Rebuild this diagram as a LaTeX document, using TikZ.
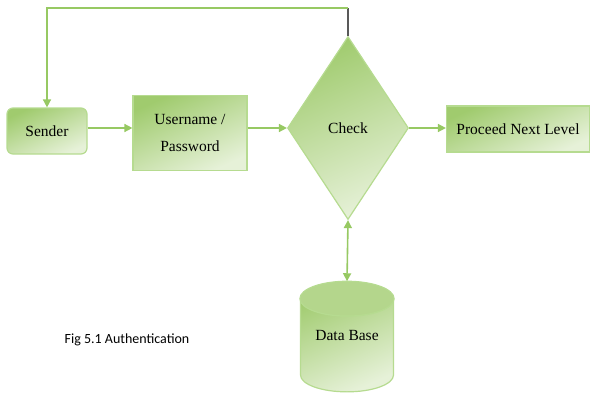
\documentclass[tikz,border=0pt]{standalone}
\usepackage{fontspec}
\setmainfont{Liberation Serif}
\newfontfamily\capfont{Carlito}
\usetikzlibrary{shapes.geometric,arrows.meta,calc}

\definecolor{gdark}{HTML}{A0CB6E}
\definecolor{glight}{HTML}{E6F1D8}
\definecolor{gedge}{HTML}{B6DB90}
\definecolor{gline}{HTML}{97C963}
\definecolor{gtop}{HTML}{B4D68C}

\tikzset{
	greenbox/.style={draw=gedge, line width=1.2pt, top color=gdark, bottom color=glight,
		shading angle=25, font=\fontsize{15.5}{18}\selectfont, align=center, inner sep=2pt},
	flow/.style={draw=gline, line width=1.6pt, -{Triangle[length=8pt,width=8pt]}},
}

\begin{document}
\begin{tikzpicture}[x=1pt,y=-1pt]
	\useasboundingbox (0,0) rectangle (591,396);

	% boxes
	\node[greenbox, rounded corners=6pt, minimum width=80pt, minimum height=46pt] (sender) at (47,131) {Sender};
	\node[greenbox, minimum width=114pt, minimum height=75pt] (user) at (190,133) {Username /\\[9pt]Password};
	\node[greenbox, diamond, minimum width=121pt, minimum height=183pt, inner sep=0pt] (check) at (348,128) {Check};
	\node[greenbox, minimum width=143pt, minimum height=46pt] (next) at (518,129) {Proceed Next Level};
	\node[greenbox, cylinder, shape border rotate=90, aspect=0.5, minimum width=93pt, minimum height=110pt] (db) at (347,348) {Data Base\\[8pt]};
	\fill[gtop] let \p1=($(db.before top)!.5!(db.after top)$), \p2=(db.top), \p3=(db.before top) in
		(\p1) ellipse ({abs(\x3-\x1)} and {abs(\y2-\y1)});
	\draw[gedge, line width=1.2pt] let \p1=($(db.before top)!.5!(db.after top)$), \p2=(db.top), \p3=(db.before top) in
		(\p1) ellipse ({abs(\x3-\x1)} and {abs(\y2-\y1)});

	% arrows
	\draw[flow] (sender.east |- check) -- (user.west |- check);
	\draw[flow] (user.east |- check) -- (check.west);
	\draw[flow] (check.east) -- (next.west |- check);
	\draw[flow, {Triangle[length=8pt,width=8pt]}-{Triangle[length=8pt,width=8pt]}] (check.south) -- (db.top);

	% feedback
	\coordinate (fb) at (348,8);
	\draw[black!65, line width=1.6pt] (check.north) -- (fb);
	\draw[flow] (fb) -- (sender.north |- fb) -- (sender.north);

	\node[font=\capfont\fontsize{14}{16}\selectfont] (cap) at (127,340) {Fig 5.1 Authentication};
\end{tikzpicture}
\end{document}
